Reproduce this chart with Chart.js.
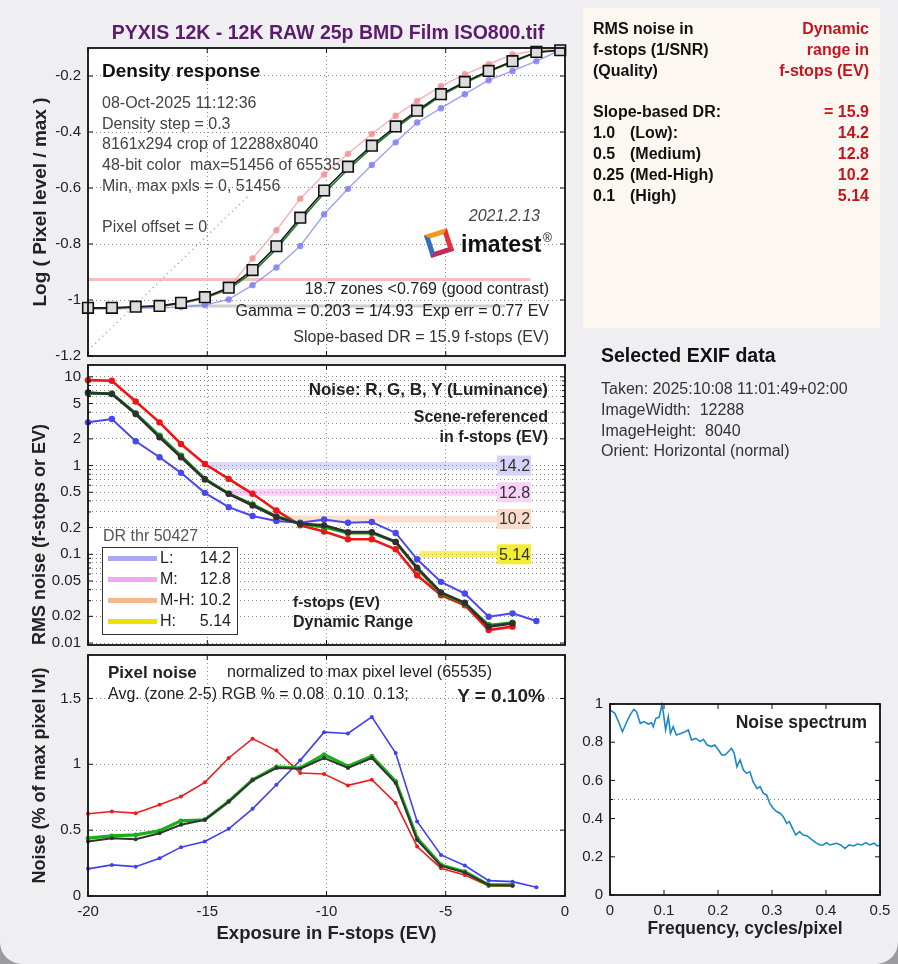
<!DOCTYPE html>
<html>
<head>
<meta charset="utf-8">
<title>PYXIS 12K - noise and density</title>
<script src="https://cdn.jsdelivr.net/npm/chart.js@4.4.1/dist/chart.umd.min.js"></script>
<style>
  html, body { margin: 0; padding: 0; background: #9c9ca0; }
  #page { position: relative; width: 898px; height: 964px; overflow: hidden; background: #efeff1;
          border-bottom-left-radius: 22px; border-bottom-right-radius: 22px;
          font-family: "Liberation Sans", Arial, sans-serif; }
  #page canvas { position: absolute; left: 0; top: 0; z-index: 2; }
  .t { position: absolute; white-space: pre; line-height: 1; z-index: 5; }
  #infobox { position: absolute; left: 583px; top: 8px; width: 297px; height: 320px; background: #fdf7f2; z-index: 1; }
  #drlegend { position: absolute; left: 102px; top: 547px; width: 134px; height: 86px; border: 1.5px solid #333;
              background: #fff; z-index: 4; }
  .swatch { position: absolute; height: 5px; width: 49px; z-index: 5; }
  #logo { position: absolute; left: 427px; top: 231px; width: 14px; height: 14px; border-style: solid; border-width: 5px;
          border-color: #f39a1e #e4323a #c42a5a #2f6fc6; transform: rotate(-18deg); z-index: 5; }
</style>
</head>
<body>
<div id="page">
  <div id="infobox"></div>
  <div id="logo"></div>
  <div id="drlegend"></div>
</div>
<script>
// ---- data ----
var exposure = [-20.0, -19.0, -18.0, -17.0, -16.1, -15.1, -14.1, -13.1, -12.1, -11.1, -10.1,
                -9.1, -8.1, -7.1, -6.2, -5.2, -4.2, -3.2, -2.2, -1.2, -0.2];

// density response, log(pixel level / max)
var densityY = [-1.028, -1.028, -1.024, -1.021, -1.010, -0.990, -0.956, -0.893, -0.808, -0.706, -0.609,
                -0.524, -0.449, -0.380, -0.324, -0.265, -0.221, -0.182, -0.147, -0.114, -0.108];
var densityG = [-1.029, -1.029, -1.025, -1.022, -1.012, -0.993, -0.962, -0.902, -0.818, -0.716, -0.619,
                -0.533, -0.457, -0.387, -0.330, -0.270, -0.225, -0.185, -0.150, -0.116, -0.109];
var densityR = [-1.030, -1.030, -1.027, -1.024, -1.014, -0.993, -0.958, -0.852, -0.751, -0.638, -0.552,
                -0.478, -0.407, -0.342, -0.289, -0.236, -0.194, -0.158, -0.123, -0.109, -0.105];
var densityB = [-1.032, -1.032, -1.030, -1.028, -1.025, -1.018, -0.998, -0.947, -0.884, -0.807, -0.694,
                -0.603, -0.518, -0.437, -0.366, -0.315, -0.265, -0.215, -0.182, -0.147, -0.108];
var gammaFitX = [-20, -13.3];
var gammaFitY = [-1.18, -0.63];
var contrastX = [-20, -1.45];
var contrastY = [-0.927, -0.927];
var floorX = [-15.8, -2.5];
var floorY = [-1.021, -1.021];

// RMS noise in f-stops (scene referenced)
var noiseR = [9.18, 9.02, 5.28, 3.07, 1.75, 1.04, 0.708, 0.481, 0.312, 0.212, 0.181, 0.148, 0.148, 0.114,
              0.058, 0.0346, 0.0267, 0.0140, 0.0153];
var noiseG = [6.50, 6.50, 3.87, 2.17, 1.29, 0.708, 0.481, 0.365, 0.267, 0.221, 0.203, 0.174, 0.174, 0.138,
              0.069, 0.0361, 0.0279, 0.0159, 0.0169];
var noiseY = [6.67, 6.39, 3.81, 2.08, 1.24, 0.696, 0.481, 0.355, 0.263, 0.221, 0.212, 0.178, 0.178, 0.138,
              0.0708, 0.0371, 0.0284, 0.0153, 0.0166];
var noiseB = [3.07, 3.35, 1.88, 1.24, 0.828, 0.493, 0.340, 0.270, 0.237, 0.227, 0.247, 0.227, 0.231, 0.174,
              0.0879, 0.0489, 0.0361, 0.0198, 0.0216, 0.0177];

// dynamic range thresholds
var drNames = ["L:", "M:", "M-H:", "H:"];
var drLabels = ["14.2", "12.8", "10.2", "5.14"];
var drLevels = [1, 0.5, 0.25, 0.1];
var drStart = [-15.05, -14.0, -12.3, -6.1];
var drLabelX = -2.85;

// pixel noise, % of max pixel level
var pixR = [0.624, 0.642, 0.629, 0.693, 0.756, 0.863, 1.048, 1.195, 1.104, 0.934, 0.926, 0.840, 0.883, 0.706,
            0.376, 0.211, 0.160, 0.076, 0.076];
var pixG = [0.439, 0.457, 0.464, 0.495, 0.571, 0.579, 0.718, 0.883, 0.980, 0.972, 1.074, 0.985, 1.061, 0.871,
            0.439, 0.236, 0.185, 0.084, 0.084];
var pixY = [0.414, 0.439, 0.431, 0.477, 0.541, 0.579, 0.718, 0.878, 0.972, 0.967, 1.048, 0.972, 1.048, 0.858,
            0.426, 0.228, 0.178, 0.084, 0.079];
var pixB = [0.206, 0.236, 0.223, 0.287, 0.371, 0.414, 0.510, 0.662, 0.845, 1.030, 1.244, 1.234, 1.360, 1.086,
            0.566, 0.312, 0.231, 0.117, 0.109, 0.066];

// noise spectrum
var specFreq = [0, 0.009, 0.017, 0.023, 0.030, 0.037, 0.044, 0.049, 0.056, 0.063, 0.071, 0.077, 0.080, 0.085,
                0.091, 0.096, 0.099, 0.103, 0.108, 0.112, 0.117, 0.123, 0.131, 0.139, 0.145, 0.151, 0.159, 0.167,
                0.173, 0.180, 0.188, 0.194, 0.201, 0.207, 0.213, 0.219, 0.225, 0.230, 0.235, 0.241, 0.247, 0.253,
                0.259, 0.265, 0.272, 0.278, 0.284, 0.290, 0.296, 0.302, 0.309, 0.315, 0.321, 0.327, 0.332, 0.338,
                0.344, 0.351, 0.358, 0.365, 0.373, 0.381, 0.389, 0.395, 0.401, 0.407, 0.414, 0.420, 0.427, 0.435,
                0.443, 0.451, 0.458, 0.466, 0.474, 0.481, 0.489, 0.495, 0.500];
var specNoise = [0.969, 0.951, 0.899, 0.855, 0.899, 0.942, 0.972, 0.960, 0.899, 0.908, 0.895, 0.902, 0.881, 0.925,
                 0.930, 0.995, 0.951, 0.864, 0.934, 0.846, 0.881, 0.838, 0.846, 0.855, 0.864, 0.812, 0.820, 0.803,
                 0.815, 0.785, 0.777, 0.785, 0.759, 0.733, 0.733, 0.750, 0.768, 0.742, 0.672, 0.707, 0.654, 0.637,
                 0.646, 0.593, 0.558, 0.567, 0.532, 0.524, 0.480, 0.454, 0.436, 0.428, 0.410, 0.375, 0.384, 0.349,
                 0.314, 0.332, 0.314, 0.309, 0.291, 0.274, 0.262, 0.262, 0.274, 0.262, 0.267, 0.271, 0.262, 0.244,
                 0.262, 0.257, 0.267, 0.262, 0.274, 0.262, 0.271, 0.257, 0.262];

// tick values and labels
var evTicks = [-20, -15, -10, -5, 0];
var evTickText = ["-20", "-15", "-10", "-5", "0"];
var densityTicks = [-1.2, -1, -0.8, -0.6, -0.4, -0.2];
var densityTickText = ["-1.2", "-1", "-0.8", "-0.6", "-0.4", "-0.2"];
var noiseTicks = [0.01, 0.02, 0.03, 0.04, 0.05, 0.06, 0.07, 0.08, 0.09,
                  0.1, 0.2, 0.3, 0.4, 0.5, 0.6, 0.7, 0.8, 0.9,
                  1, 2, 3, 4, 5, 6, 7, 8, 9, 10];
var noiseTickText = ["0.01", "0.02", "", "", "0.05", "", "", "", "",
                     "0.1", "0.2", "", "", "0.5", "", "", "", "",
                     "1", "2", "", "", "5", "", "", "", "", "10"];
var pixTicks = [0, 0.5, 1, 1.5];
var pixTickText = ["0", "0.5", "1", "1.5"];
var specXTicks = [0, 0.1, 0.2, 0.3, 0.4, 0.5];
var specXTickText = ["0", "0.1", "0.2", "0.3", "0.4", "0.5"];
var specYTicks = [0, 0.2, 0.4, 0.5, 0.6, 0.8, 1];
var specYTickText = ["0", "0.2", "0.4", "", "0.6", "0.8", "1"];

var PAGE_W = 898, PAGE_H = 964;
var page = document.getElementById("page");
var gridColor = "#8a8a8a";

function pts(xs, ys) {
	var out = [];
	for (var i = 0; i < ys.length; i++) {
		if (ys[i] !== null) out.push({ x: xs[i], y: ys[i] });
	}
	return out;
}

function addText(str, x, base, size, opts) {
	opts = opts || {};
	var d = document.createElement("div");
	d.className = "t";
	d.textContent = str;
	d.style.fontSize = size + "px";
	d.style.top = (base - 0.846 * size) + "px";
	if (opts.align === "right") {
		d.style.right = (PAGE_W - x) + "px";
	} else if (opts.align === "center") {
		d.style.left = x + "px";
		d.style.transform = "translateX(-50%)";
	} else {
		d.style.left = x + "px";
	}
	if (opts.bold) d.style.fontWeight = "bold";
	if (opts.italic) d.style.fontStyle = "italic";
	d.style.color = opts.color || "#222";
	page.appendChild(d);
}

// white plot area, black box and inward ticks like matlab
var framePlugin = {
	id: "frame",
	beforeDraw: function(chart) {
		var a = chart.chartArea, ctx = chart.ctx;
		ctx.save();
		ctx.fillStyle = "#fff";
		ctx.fillRect(a.left, a.top, a.right - a.left, a.bottom - a.top);
		ctx.restore();
	},
	afterDraw: function(chart) {
		var a = chart.chartArea, ctx = chart.ctx;
		var xs = chart.scales.x, ys = chart.scales.y;
		ctx.save();
		ctx.strokeStyle = "#111";
		ctx.lineWidth = 1;
		ctx.beginPath();
		xs.ticks.forEach(function(t) {
			var px = xs.getPixelForValue(t.value);
			ctx.moveTo(px, a.bottom); ctx.lineTo(px, a.bottom - 5);
			ctx.moveTo(px, a.top); ctx.lineTo(px, a.top + 5);
		});
		ys.ticks.forEach(function(t) {
			var py = ys.getPixelForValue(t.value);
			var len = (t.label === "" ? 3 : 5);
			ctx.moveTo(a.left, py); ctx.lineTo(a.left + len, py);
			ctx.moveTo(a.right, py); ctx.lineTo(a.right - len, py);
		});
		ctx.stroke();
		ctx.lineWidth = 1.8;
		ctx.strokeRect(a.left, a.top, a.right - a.left, a.bottom - a.top);
		ctx.restore();
	}
};

// dynamic range bands on the noise plot
var drPlugin = {
	id: "drBands",
	beforeDatasetsDraw: function(chart) {
		var xs = chart.scales.x, ys = chart.scales.y, ctx = chart.ctx;
		var bandColors = ["rgba(150,150,240,0.35)", "rgba(240,120,240,0.35)", "rgba(245,165,110,0.35)", "rgba(240,230,0,0.55)"];
		ctx.save();
		ctx.lineWidth = 7;
		for (var i = 0; i < drLevels.length; i++) {
			var py = ys.getPixelForValue(drLevels[i]);
			ctx.strokeStyle = bandColors[i];
			ctx.beginPath();
			ctx.moveTo(xs.getPixelForValue(drStart[i]), py);
			ctx.lineTo(xs.getPixelForValue(drLabelX), py);
			ctx.stroke();
		}
		ctx.restore();
	},
	afterDatasetsDraw: function(chart) {
		var xs = chart.scales.x, ys = chart.scales.y, ctx = chart.ctx;
		var boxColors = ["#d4d4f8", "#f8d2f8", "#fadcc8", "#f4ee30"];
		ctx.save();
		ctx.font = "16px 'Liberation Sans', Arial, sans-serif";
		ctx.textAlign = "right";
		ctx.textBaseline = "middle";
		for (var i = 0; i < drLevels.length; i++) {
			var py = ys.getPixelForValue(drLevels[i]);
			var px = xs.getPixelForValue(drLabelX);
			ctx.fillStyle = boxColors[i];
			ctx.fillRect(px, py - 10, 34, 20);
			ctx.fillStyle = "#333";
			ctx.fillText(drLabels[i], px + 33, py + 1);
		}
		ctx.restore();
	}
};

function tickAxis(values, texts, opts) {
	var ax = {
		afterBuildTicks: function(s) {
			s.ticks = values.map(function(v) { return { value: v }; });
		},
		ticks: {
			autoSkip: false,
			maxRotation: 0,
			color: "#222",
			font: { size: 15, family: "'Liberation Sans', Arial, sans-serif" },
			padding: 7,
			callback: function(v, i) { return texts[i]; }
		},
		grid: { color: gridColor, lineWidth: 1, drawTicks: false },
		border: { display: false, dash: [1, 3] }
	};
	for (var k in opts) ax[k] = opts[k];
	return ax;
}

function axisTitle(text, size, pad) {
	return {
		display: true, text: text, color: "#222",
		font: { size: size, weight: "bold", family: "'Liberation Sans', Arial, sans-serif" },
		padding: pad
	};
}

function addPanel(area, datasets, xOpts, yOpts, extra) {
	var cvs = document.createElement("canvas");
	cvs.setAttribute("width", PAGE_W);
	cvs.setAttribute("height", PAGE_H);
	page.appendChild(cvs);
	xOpts.afterFit = function(s) { s.height = area.xh; s.paddingLeft = 0; s.paddingRight = 0; };
	yOpts.afterFit = function(s) { s.width = area.yw; s.paddingTop = 0; s.paddingBottom = 0; };
	return new Chart(cvs, {
		type: "line",
		data: { datasets: datasets },
		options: {
			responsive: false,
			animation: false,
			layout: {
				padding: {
					left: area.left - area.yw,
					top: area.top,
					right: PAGE_W - area.right,
					bottom: PAGE_H - area.bottom - area.xh
				}
			},
			plugins: { legend: { display: false }, tooltip: { enabled: false } },
			scales: { x: xOpts, y: yOpts }
		},
		plugins: [framePlugin].concat(extra || [])
	});
}

function line(data, color, width, radius, more) {
	var ds = {
		data: data, borderColor: color, backgroundColor: color, borderWidth: width,
		pointRadius: radius, pointBorderWidth: 0, pointHoverRadius: radius,
		tension: 0, fill: false, clip: false
	};
	for (var k in more || {}) ds[k] = more[k];
	return ds;
}

// ---- panel 1: density response ----
var densX = tickAxis(evTicks, evTickText, { type: "linear", min: -20, max: 0 });
densX.ticks.display = false;
addPanel({ left: 88, top: 48, right: 565, bottom: 356, yw: 88, xh: 0 }, [
	line(pts(exposure, densityY), "#1a1a1a", 1.6, 7.5, {
		pointStyle: "rect", backgroundColor: "#dcdcdc", pointBorderColor: "#111", pointBorderWidth: 1.6
	}),
	line(pts(exposure, densityG), "#1f7d2a", 1.6, 0),
	line(pts(exposure, densityR), "rgba(238,130,130,0.6)", 1.4, 3.2, { backgroundColor: "rgba(240,140,140,0.8)" }),
	line(pts(exposure, densityB), "rgba(110,110,240,0.65)", 1.4, 3.2, { backgroundColor: "rgba(120,120,245,0.8)" }),
	line(pts(contrastX, contrastY), "rgba(240,170,170,0.75)", 3, 0),
	line(pts(floorX, floorY), "rgba(185,185,185,0.7)", 3, 0),
	line(pts(gammaFitX, gammaFitY), "rgba(140,140,140,0.9)", 1.4, 0, { borderDash: [1, 4] })
],
	densX,
	tickAxis(densityTicks, densityTickText, {
		type: "linear", min: -1.2, max: -0.1,
		title: axisTitle("Log ( Pixel level / max )", 19, { top: 29 })
	})
);

// ---- panel 2: RMS noise in f-stops ----
var noiseX = tickAxis(evTicks, evTickText, { type: "linear", min: -20, max: 0 });
noiseX.ticks.display = false;
var noiseTitle = axisTitle("RMS noise (f-stops or EV)", 18, { top: 29 });
noiseTitle.align = "start";
addPanel({ left: 88, top: 365, right: 565, bottom: 645, yw: 88, xh: 0 }, [
	line(pts(exposure, noiseY), "#303030", 2.6, 3.2),
	line(pts(exposure, noiseG), "#14a014", 3, 3.2),
	line(pts(exposure, noiseR), "#f01414", 2.6, 3.2),
	line(pts(exposure, noiseB), "#4848f0", 2, 3.2)
],
	noiseX,
	tickAxis(noiseTicks, noiseTickText, { type: "logarithmic", min: 0.0095, max: 13.6, title: noiseTitle }),
	[drPlugin]
);

// ---- panel 3: pixel noise ----
addPanel({ left: 88, top: 655, right: 565, bottom: 896, yw: 88, xh: 60 }, [
	line(pts(exposure, pixY), "#333333", 2, 2),
	line(pts(exposure, pixG), "#18b018", 3.2, 2.4),
	line(pts(exposure, pixR), "#ee1c1c", 1.6, 2),
	line(pts(exposure, pixB), "#4040ee", 1.6, 2)
],
	tickAxis(evTicks, evTickText, {
		type: "linear", min: -20, max: 0,
		title: axisTitle("Exposure in F-stops (EV)", 18.5, { top: 0, bottom: 11 })
	}),
	tickAxis(pixTicks, pixTickText, {
		type: "linear", min: 0, max: 1.83,
		title: axisTitle("Noise (% of max pixel lvl)", 18, { top: 29 })
	})
);

// ---- panel 4: noise spectrum ----
var specY = tickAxis(specYTicks, specYTickText, { type: "linear", min: 0, max: 1 });
specY.grid.color = function(c) { return c.tick && c.tick.value === 0.5 ? gridColor : "rgba(0,0,0,0)"; };
var specX = tickAxis(specXTicks, specXTickText, {
	type: "linear", min: 0, max: 0.5,
	title: axisTitle("Frequency, cycles/pixel", 17.5, { top: 0, bottom: 0 })
});
specX.grid.display = false;
addPanel({ left: 610, top: 704, right: 880, bottom: 895, yw: 40, xh: 45 }, [
	line(pts(specFreq, specNoise), "#1c88c8", 1.6, 0)
], specX, specY);

// ---- text ----
addText("PYXIS 12K - 12K RAW 25p BMD Film ISO800.tif", 328, 39, 19.5, { bold: true, align: "center", color: "#5c1b6c" });

addText("Density response", 102, 77, 19, { bold: true, color: "#111" });
addText("08-Oct-2025 11:12:36", 102, 109, 16, { color: "#444" });
addText("Density step = 0.3", 102, 130, 16, { color: "#444" });
addText("8161x294 crop of 12288x8040", 102, 150, 16, { color: "#444" });
addText("48-bit color  max=51456 of 65535", 102, 171, 16, { color: "#444" });
addText("Min, max pxls = 0, 51456", 102, 192, 16, { color: "#444" });
addText("Pixel offset = 0", 102, 233, 16, { color: "#444" });
addText("2021.2.13", 540, 222, 16, { italic: true, align: "right", color: "#444" });
addText("imatest", 461, 252, 23, { bold: true, color: "#111" });
addText("\u00ae", 543, 242, 12, { color: "#111" });
addText("18.7 zones <0.769 (good contrast)", 549, 295, 16, { align: "right" });
addText("Gamma = 0.203 = 1/4.93  Exp err = 0.77 EV", 549, 317, 16, { align: "right" });
addText("Slope-based DR = 15.9 f-stops (EV)", 549, 343, 16, { align: "right", color: "#333" });

addText("Noise: R, G, B, Y (Luminance)", 548, 395, 17, { bold: true, align: "right" });
addText("Scene-referenced", 548, 423, 16, { bold: true, align: "right" });
addText("in f-stops (EV)", 548, 443, 16, { bold: true, align: "right" });
addText("f-stops (EV)", 293, 607, 15.5, { bold: true });
addText("Dynamic Range", 293, 628, 16, { bold: true });
addText("DR thr 50427", 103, 542, 16, { color: "#555" });

// DR legend rows
var swatchColors = ["#a8a8f4", "#f0a8f0", "#f4b890", "#f0e000"];
var rowBase = [564, 585, 606, 627];
for (var i = 0; i < drNames.length; i++) {
	var sw = document.createElement("div");
	sw.className = "swatch";
	sw.style.left = "108px";
	sw.style.top = (rowBase[i] - 8) + "px";
	sw.style.background = swatchColors[i];
	page.appendChild(sw);
	addText(drNames[i], 160, rowBase[i], 16);
	addText(drLabels[i], 231, rowBase[i], 16, { align: "right" });
}

addText("Pixel noise", 108, 678, 17, { bold: true });
addText("normalized to max pixel level (65535)", 227, 678, 16);
addText("Avg. (zone 2-5) RGB % = 0.08  0.10  0.13;", 108, 700, 16);
addText("Y = 0.10%", 545, 702, 19, { bold: true, align: "right" });

addText("Noise spectrum", 867, 729, 17.5, { bold: true, align: "right" });

// info box on the right
var leftCol = ["RMS noise in", "f-stops (1/SNR)", "(Quality)"];
var rightCol = ["Dynamic", "range in", "f-stops (EV)"];
var headBase = [35, 56, 77];
for (var j = 0; j < 3; j++) {
	addText(leftCol[j], 593, headBase[j], 16, { bold: true, color: "#111" });
	addText(rightCol[j], 869, headBase[j], 16, { bold: true, align: "right", color: "#c4151c" });
}
var qualNum = ["1.0", "0.5", "0.25", "0.1"];
var qualName = ["(Low):", "(Medium)", "(Med-High)", "(High)"];
var qualBase = [139, 160, 181, 202];
addText("Slope-based DR:", 593, 118, 16, { bold: true, color: "#111" });
addText("= 15.9", 869, 118, 16, { bold: true, align: "right", color: "#c4151c" });
for (var q = 0; q < qualNum.length; q++) {
	addText(qualNum[q], 593, qualBase[q], 16, { bold: true, color: "#111" });
	addText(qualName[q], 630, qualBase[q], 16, { bold: true, color: "#111" });
	addText(drLabels[q], 869, qualBase[q], 16, { bold: true, align: "right", color: "#c4151c" });
}

addText("Selected EXIF data", 601, 362, 19.5, { bold: true, color: "#111" });
addText("Taken: 2025:10:08 11:01:49+02:00", 601, 395, 16, { color: "#333" });
addText("ImageWidth:  12288", 601, 416, 16, { color: "#333" });
addText("ImageHeight:  8040", 601, 437, 16, { color: "#333" });
addText("Orient: Horizontal (normal)", 601, 457, 16, { color: "#333" });
</script>
</body>
</html>
